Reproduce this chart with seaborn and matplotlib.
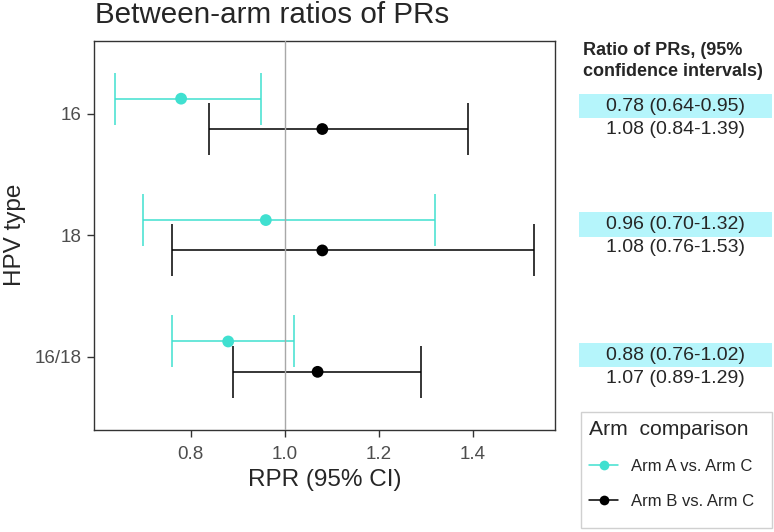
import matplotlib
matplotlib.use("Agg")
import matplotlib.pyplot as plt
from matplotlib.lines import Line2D
from matplotlib.patches import Rectangle
import pandas as pd
import seaborn as sns

# values
hpv_types = ["16", "18", "16/18"]
arms = ["Arm A vs. Arm C", "Arm B vs. Arm C"]
arm_a_rpr = [0.78, 0.96, 0.88]
arm_a_low = [0.64, 0.70, 0.76]
arm_a_high = [0.95, 1.32, 1.02]
arm_b_rpr = [1.08, 1.08, 1.07]
arm_b_low = [0.84, 0.76, 0.89]
arm_b_high = [1.39, 1.53, 1.29]

palette = {"Arm A vs. Arm C": "#40E0D0", "Arm B vs. Arm C": "black"}
highlight = "#B5F5FB"

W, H = 774, 532


def fx(px):
    return px / W


def fy(py):
    return 1 - py / H


def build_frame():
    rows = []
    for arm, est, lo, hi, shift in [
        (arms[0], arm_a_rpr, arm_a_low, arm_a_high, -0.125),
        (arms[1], arm_b_rpr, arm_b_low, arm_b_high, 0.125),
    ]:
        for i, t in enumerate(hpv_types):
            rows.append({"hpv": t, "arm": arm, "rpr": est[i], "low": lo[i],
                         "high": hi[i], "ypos": i + shift})
    return pd.DataFrame(rows)


df = build_frame()

sns.set_style("white")
plt.rcParams["font.family"] = ["Liberation Sans", "DejaVu Sans"]

fig = plt.figure(figsize=(W / 100, H / 100), dpi=100)
ax = fig.add_axes([fx(94.3), fy(429.5), fx(555) - fx(94.3), fy(41) - fy(429.5)])

for arm, sub in df.groupby("arm"):
    ax.errorbar(sub["rpr"], sub["ypos"],
                xerr=[sub["rpr"] - sub["low"], sub["high"] - sub["rpr"]],
                fmt="none", ecolor=palette[arm], elinewidth=1.1,
                capsize=19, capthick=1.1, zorder=2)
ax.axvline(1.0, color="#A8A8A8", lw=1.0, zorder=3)
sns.scatterplot(data=df, x="rpr", y="ypos", hue="arm", palette=palette,
                s=72, linewidth=0, legend=False, zorder=4, ax=ax)

lo, hi = df["low"].min(), df["high"].max()
pad = 0.05 * (hi - lo)
ax.set_xlim(lo - pad, hi + pad)
ax.set_ylim(len(hpv_types) - 0.4, -0.6)
ax.set_xticks([0.8, 1.0, 1.2, 1.4])
ax.set_xticklabels(["0.8", "1.0", "1.2", "1.4"])
ax.set_yticks(range(len(hpv_types)))
ax.set_yticklabels(hpv_types)
ax.tick_params(axis="both", direction="out", length=5, width=1.0,
               color="#333333", labelcolor="#4D4D4D", labelsize=13.5,
               bottom=True, left=True)
ax.tick_params(axis="x", pad=7)
ax.tick_params(axis="y", pad=4)
for s in ax.spines.values():
    s.set_color("#333333")
    s.set_linewidth(1.0)
ax.set_xlabel("RPR (95% CI)", fontsize=17.5, labelpad=4)
ax.set_ylabel("HPV type", fontsize=17.5, labelpad=6)

fig.text(fx(95), fy(23), "Between-arm ratios of PRs", fontsize=21.3,
         va="baseline", ha="left")

# side table of ratios
fig.text(fx(582.7), fy(55), "Ratio of PRs, (95%", fontsize=13, weight="bold",
         va="baseline", ha="left")
fig.text(fx(582.7), fy(76), "confidence intervals)", fontsize=13, weight="bold",
         va="baseline", ha="left")
row_centres = [106.2, 224.5, 355.0]
for i, yc in enumerate(row_centres):
    fig.patches.append(Rectangle((fx(579), fy(yc + 12.2)), fx(772) - fx(579),
                                 24.4 / H, transform=fig.transFigure,
                                 facecolor=highlight, edgecolor="none"))
    fig.text(fx(675), fy(yc), f"{arm_a_rpr[i]:.2f} ({arm_a_low[i]:.2f}-{arm_a_high[i]:.2f})",
             fontsize=14, ha="center", va="center")
    fig.text(fx(675), fy(yc + 23.5), f"{arm_b_rpr[i]:.2f} ({arm_b_low[i]:.2f}-{arm_b_high[i]:.2f})",
             fontsize=14, ha="center", va="center")

# legend with its own frame
fig.patches.append(Rectangle((fx(581), fy(528.3)), fx(772) - fx(581),
                             fy(411.7) - fy(528.3), transform=fig.transFigure,
                             facecolor="white", edgecolor="#D0D0D0", lw=1.0))
handles = [Line2D([], [], color=palette[a], marker="o", markersize=7,
                  markeredgewidth=0, lw=1.1) for a in arms]
leg = fig.legend(handles, arms, title="Arm  comparison", loc="upper left",
                 bbox_to_anchor=(fx(581), fy(411.7)),
                 frameon=False, fontsize=12, title_fontsize=15.2,
                 alignment="left", handlelength=1.7, handletextpad=0.8,
                 labelspacing=1.2, borderpad=0.5, borderaxespad=0)

fig.savefig("out.png", dpi=100)
